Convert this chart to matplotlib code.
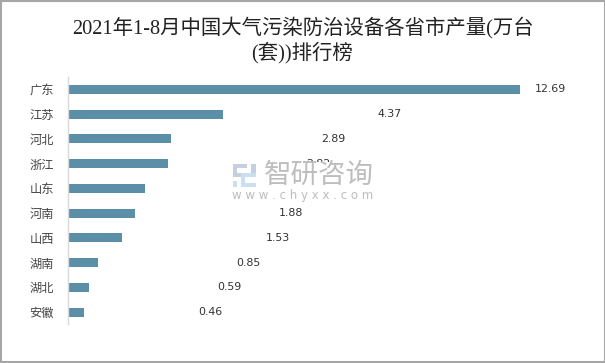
import matplotlib
matplotlib.use("Agg")
import matplotlib.pyplot as plt
from matplotlib.patches import Rectangle

provinces = ["广东", "江苏", "河北", "浙江", "山东", "河南", "山西", "湖南", "湖北", "安徽"]
values = [12.69, 4.37, 2.89, 2.82, 2.17, 1.88, 1.53, 0.85, 0.59, 0.46]
# the 山东 label cannot be seen in the reference (behind the watermark), so it is left empty
value_labels = ["12.69", "4.37", "2.89", "2.82", "", "1.88", "1.53", "0.85", "0.59", "0.46"]
title = "2021年1-8月中国大气污染防治设备各省市产量(万台\n(套))排行榜"

W, H = 605, 363
plt.rcParams["font.family"] = ["Noto Sans CJK SC", "DejaVu Sans"]
fig = plt.figure(figsize=(W / 100, H / 100), dpi=100, facecolor="white")

def fx(p): return p / W
def fy(p): return 1 - p / H

L, R, T, B = 67.6, 590.0, 77.0, 324.5
ax = fig.add_axes([fx(L), fy(B), (R - L) / W, (B - T) / H])
ax.set_xlim(0, (R - L) / 35.65)
ax.set_ylim(len(values) - 0.5, -0.5)
ax.barh(range(len(values)), values, height=0.36, color="#5B8FA8")
ax.set_yticks(range(len(values)), provinces, fontsize=8.8, color="#444444")
ax.tick_params(axis="y", length=0, pad=10)
ax.set_xticks([])
for s in ("top", "right", "bottom"):
    ax.spines[s].set_visible(False)
ax.spines["left"].set_color("#D9D9D9")
ax.spines["left"].set_linewidth(1)

label_px = [550, 390, 333, 318, 303, 291, 278, 248, 229, 210]
for i, (txt, px) in enumerate(zip(value_labels, label_px)):
    if txt:
        ax.annotate(txt, xy=(0, i), xycoords=("axes fraction", "data"),
                    xytext=(px - L, 0), textcoords="offset pixels",
                    ha="center", va="center", fontsize=7.9, color="#333333",
                    family=["DejaVu Sans"], zorder=3)

fig.text(0.5, fy(40), title, ha="center", va="center", fontsize=14.7, color="#222222",
         family=["Liberation Serif", "Noto Sans CJK SC"], linespacing=1.25, fontweight="medium")

# watermark panel, which hides part of the labels
wm = fig.add_axes([0, 0, 1, 1], facecolor="none", zorder=5)
wm.set_xlim(0, W); wm.set_ylim(H, 0); wm.axis("off")
wm.add_patch(Rectangle((228, 162), 150, 43, fc="white", ec="none"))
logo_grey = "#C5CFE0"
logo_blue = "#C9E0F2"
for (x, y, w, h, c) in [(233, 164, 14, 4, logo_grey), (233, 164, 4, 12, logo_grey),
                        (233, 173, 12, 4, logo_grey), (233, 181, 4, 6, logo_blue),
                        (251, 164, 5, 13, logo_grey), (241, 173, 15, 4, logo_blue),
                        (241, 173, 4, 14, logo_blue), (241, 183, 15, 4, logo_blue)]:
    wm.add_patch(Rectangle((x, y), w, h, fc=c, ec="none"))
wm.text(319, 175, "智研咨询", ha="center", va="center", fontsize=19.8, color="#BDBDBD")
wm.text(302.5, 195, "w w w . c h y x x . c o m", ha="center", va="center", fontsize=8.5,
        color="#BDBDBD", family=["DejaVu Sans"])

# gray picture frame
wm.add_patch(Rectangle((0.5, 0.5), W - 1, H - 1.5, fc="none", ec="#A6A6A6", lw=1.5))

fig.savefig("out.png", dpi=100)
